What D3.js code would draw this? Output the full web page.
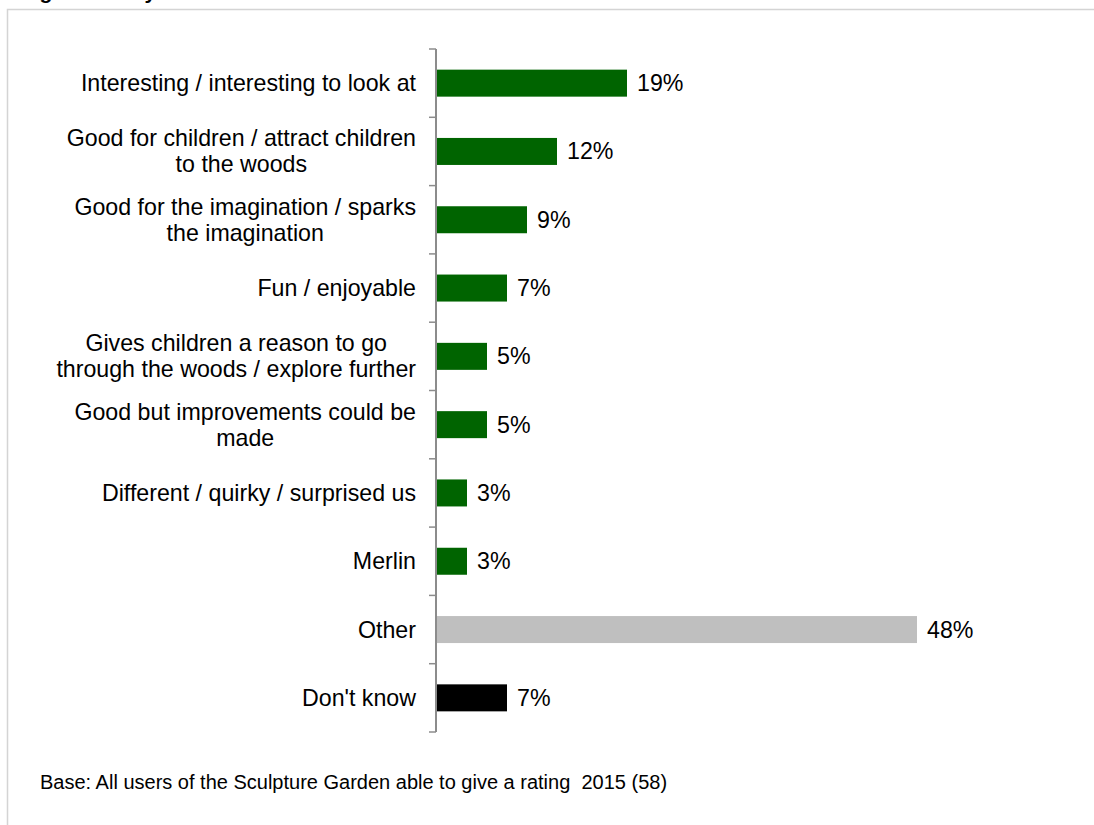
<!DOCTYPE html>
<html>
<head>
<meta charset="utf-8">
<script src="https://cdn.jsdelivr.net/npm/d3@7"></script>
<style>
  html, body { margin: 0; padding: 0; background: #fff; overflow: hidden; }
  svg { display: block; font-family: "Liberation Sans", Arial, sans-serif; }
</style>
</head>
<body>
<svg id="chart" width="1094" height="825"></svg>
<script>
// Categories (line breaks as in the original labels)
var categories = [
    'Interesting / interesting to look at',
    'Good for children / attract children\nto the woods',
    'Good for the imagination / sparks\nthe imagination',
    'Fun / enjoyable',
    'Gives children a reason to go\nthrough the woods / explore further',
    'Good but improvements could be\nmade',
    'Different / quirky / surprised us',
    'Merlin',
    'Other',
    "Don't know"
];
var values = [19, 12, 9, 7, 5, 5, 3, 3, 48, 7];
var barGroups = ['reason', 'reason', 'reason', 'reason', 'reason', 'reason', 'reason', 'reason', 'other', 'dk'];
var titleText = 'Rating overall by users';
var baseNote = 'Base: All users of the Sculpture Garden able to give a rating  2015 (58)';

var colors = {reason: '#006400', other: '#bfbfbf', dk: '#000000'};

var svg = d3.select('#chart');

// frame of the slide area
svg.append('rect')
    .attr('x', 7.5)
    .attr('y', 9.5)
    .attr('width', 1200)
    .attr('height', 1000)
    .attr('fill', 'none')
    .attr('stroke', '#d4d4d4')
    .attr('stroke-width', 1.5);

// title, cut off at the top of the picture (only descenders show)
svg.append('text')
    .attr('x', -13)
    .attr('y', -1)
    .style('font-size', '21px')
    .style('font-weight', 'bold')
    .text(titleText);

var axisX = 436;
var plotTop = 49, plotBottom = 732;

var xScale = d3.scaleLinear().domain([0, 48]).range([axisX + 1, 917]);
var yScale = d3.scaleBand()
    .domain(d3.range(categories.length))
    .range([plotTop, plotBottom]);

var barH = 27;
var fontSize = 23.2;

var chartG = svg.append('g');

// bars
chartG.selectAll('.bar').data(values)
    .enter()
    .append('rect')
    .attr('class', 'bar')
    .attr('x', xScale(0))
    .attr('y', (d, i) => yScale(i) + yScale.bandwidth() / 2 - barH / 2)
    .attr('width', d => xScale(d) - xScale(0))
    .attr('height', barH)
    .attr('fill', (d, i) => colors[barGroups[i]]);

// value labels
chartG.selectAll('.val').data(values)
    .enter()
    .append('text')
    .attr('class', 'val')
    .attr('x', d => xScale(d) + 10)
    .attr('y', (d, i) => yScale(i) + yScale.bandwidth() / 2 + 8)
    .style('font-size', fontSize + 'px')
    .attr('fill', '#000')
    .text(d => d + '%');

// y axis with ticks between categories
var tickPos = d3.range(categories.length + 1).map(i => plotTop + i * yScale.step());
chartG.append('line')
    .attr('x1', axisX).attr('x2', axisX)
    .attr('y1', plotTop).attr('y2', plotBottom)
    .attr('stroke', '#8c8c8c')
    .attr('stroke-width', 2);
chartG.selectAll('.tick').data(tickPos)
    .enter()
    .append('line')
    .attr('class', 'tick')
    .attr('x1', axisX - 7).attr('x2', axisX)
    .attr('y1', d => d).attr('y2', d => d)
    .attr('stroke', '#8c8c8c')
    .attr('stroke-width', 1.5);

// category labels: block right aligned, lines centred within the block
var labelRight = 416;
var lineGap = 26;
categories.forEach(function(cat, i) {
    var lines = cat.split('\n');
    var g = chartG.append('g');
    var texts = lines.map(function(line, j) {
        return g.append('text')
            .attr('y', yScale(i) + yScale.bandwidth() / 2 + 8 + (j - (lines.length - 1) / 2) * lineGap)
            .style('font-size', fontSize + 'px')
            .attr('text-anchor', 'middle')
            .attr('fill', '#000')
            .text(line);
    });
    var maxW = d3.max(texts, t => t.node().getComputedTextLength());
    texts.forEach(t => t.attr('x', labelRight - maxW / 2));
});

// base note
svg.append('text')
    .attr('x', 40)
    .attr('y', 789)
    .style('font-size', '20px')
    .style('white-space', 'pre')
    .attr('fill', '#000')
    .text(baseNote);
</script>
</body>
</html>
